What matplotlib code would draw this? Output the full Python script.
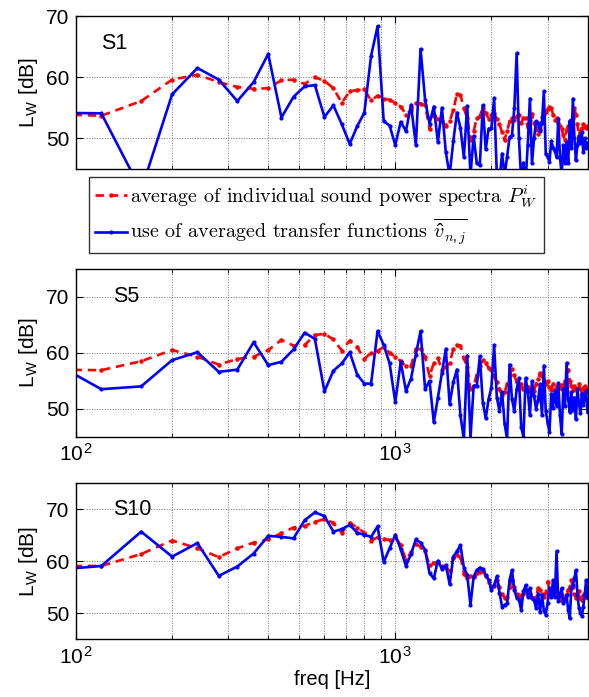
import matplotlib
matplotlib.use('Agg')
import math
import matplotlib.pyplot as plt
from matplotlib.ticker import FixedLocator, NullFormatter, FuncFormatter
from matplotlib.lines import Line2D

plt.rcParams['font.family'] = ['Liberation Sans', 'DejaVu Sans']
plt.rcParams['mathtext.fontset'] = 'custom'
plt.rcParams['mathtext.rm'] = 'Liberation Sans'
plt.rcParams['mathtext.it'] = 'cmmi10'
plt.rcParams['mathtext.bf'] = 'Liberation Sans:bold'

# frequency grid (40 Hz steps)
freq = [80, 120, 160, 200, 240, 280, 320, 360, 400, 440,
        480, 520, 560, 600, 640, 680, 720, 760, 800, 840,
        880, 920, 960, 1000, 1040, 1080, 1120, 1160, 1200, 1240,
        1280, 1320, 1360, 1400, 1440, 1480, 1520, 1560, 1600, 1640,
        1680, 1720, 1760, 1800, 1840, 1880, 1920, 1960, 2000, 2040,
        2080, 2120, 2160, 2200, 2240, 2280, 2320, 2360, 2400, 2440,
        2480, 2520, 2560, 2600, 2640, 2680, 2720, 2760, 2800, 2840,
        2880, 2920, 2960, 3000, 3040, 3080, 3120, 3160, 3200, 3240,
        3280, 3320, 3360, 3400, 3440, 3480, 3520, 3560, 3600, 3640,
        3680, 3720, 3760, 3800, 3840, 3880, 3920, 3960, 4000]

# S1
s1_avg = [54.0, 53.7, 56.1, 59.6, 60.4, 59.2, 58.4, 58.1, 58.2, 59.5,
          59.6, 58.9, 60.0, 59.4, 58.2, 55.8, 57.7, 57.9, 58.0, 56.2,
          57.0, 56.5, 56.3, 55.8, 55.2, 53.9, 54.6, 55.8, 55.7, 55.4,
          51.6, 53.9, 53.2, 52.8, 52.1, 52.8, 54.6, 57.3, 57.1, 54.9,
          53.3, 49.8, 51.2, 53.3, 53.6, 55.0, 54.1, 53.2, 53.9, 54.1,
          53.2, 52.3, 51.0, 49.8, 51.2, 52.8, 53.3, 53.0, 53.6, 53.9,
          52.5, 53.3, 53.3, 51.9, 53.0, 54.0, 52.5, 51.7, 50.8, 51.5,
          53.5, 54.0, 54.3, 54.8, 55.2, 55.0, 53.9, 53.0, 53.3, 52.5,
          52.0, 51.5, 50.5, 49.8, 51.4, 52.0, 52.3, 53.0, 53.3, 54.9,
          53.9, 52.3, 50.4, 51.0, 51.7, 52.3, 52.0, 51.7, 52.0]
s1_tf = [54.2, 54.1, 41.5, 57.2, 61.5, 59.6, 56.1, 59.2, 63.8, 53.4,
         56.8, 58.5, 58.7, 53.5, 55.4, 52.3, 49.1, 52.0, 54.2, 63.5,
         68.3, 52.8, 52.1, 48.9, 52.7, 51.2, 55.5, 48.9, 64.6, 56.3,
         52.4, 55.2, 49.4, 55.0, 47.7, 44.0, 49.6, 54.2, 51.7, 46.9,
         55.3, 44.0, 50.4, 45.9, 45.6, 55.4, 48.2, 51.6, 51.7, 56.6,
         44.0, 43.0, 47.5, 44.0, 47.0, 50.2, 50.5, 55.0, 63.9, 50.0,
         43.0, 46.0, 43.0, 49.0, 56.5, 45.9, 50.0, 52.8, 52.5, 51.2,
         52.5, 57.7, 47.5, 47.0, 46.1, 49.6, 48.5, 48.0, 46.9, 53.1,
         47.0, 44.0, 48.9, 46.0, 49.4, 46.0, 52.9, 48.4, 56.5, 50.0,
         46.4, 49.0, 50.4, 49.2, 51.0, 47.8, 50.0, 48.5, 49.3]

# S5
s5_avg = [57.0, 56.9, 58.5, 60.5, 59.3, 57.9, 58.9, 59.3, 60.5, 62.3,
          61.3, 61.4, 63.2, 63.4, 62.4, 60.4, 62.2, 61.0, 58.9, 60.0,
          60.4, 61.0, 60.0, 59.3, 58.5, 57.6, 57.7, 60.7, 60.7, 59.3,
          55.8, 58.2, 59.0, 57.0, 57.5, 58.2, 60.6, 61.4, 61.3, 59.0,
          57.5, 53.5, 54.1, 56.1, 57.6, 58.8, 58.2, 57.3, 57.0, 55.8,
          54.7, 53.5, 52.4, 53.0, 54.4, 56.1, 57.1, 56.0, 54.7, 53.8,
          54.4, 53.5, 54.1, 53.9, 53.2, 52.6, 53.2, 54.4, 55.3, 56.4,
          55.8, 55.0, 54.4, 54.9, 53.9, 53.4, 54.4, 53.6, 54.0, 53.9,
          53.8, 54.3, 53.3, 54.9, 56.7, 57.0, 54.9, 54.0, 53.3, 54.0,
          53.3, 53.8, 54.5, 53.5, 53.0, 53.8, 54.0, 53.2, 53.5]
s5_tf = [59.1, 53.5, 54.0, 58.7, 60.1, 56.6, 57.0, 61.9, 57.8, 58.4,
         60.6, 63.6, 62.5, 53.1, 56.8, 58.1, 60.1, 56.1, 54.5, 54.5,
         63.9, 61.4, 58.1, 51.2, 58.4, 53.2, 55.4, 59.7, 63.9, 53.5,
         55.0, 47.6, 52.0, 56.4, 60.7, 50.8, 54.8, 57.0, 48.8, 44.5,
         59.5, 44.8, 54.1, 54.1, 59.4, 51.1, 48.3, 51.7, 53.8, 61.4,
         52.0, 49.6, 53.0, 47.3, 44.6, 57.9, 51.7, 49.6, 53.5, 55.5,
         46.7, 45.0, 55.5, 53.2, 48.8, 54.9, 52.3, 50.0, 51.5, 54.4,
         48.8, 57.7, 49.6, 47.5, 45.8, 52.6, 50.2, 53.2, 50.5, 54.6,
         48.8, 45.5, 53.5, 50.5, 58.2, 51.7, 49.4, 53.0, 49.8, 52.0,
         48.1, 53.6, 51.0, 49.2, 52.7, 50.6, 51.8, 53.2, 49.4]

# S10
s10_avg = [59.1, 59.1, 61.4, 64.0, 62.5, 60.8, 62.5, 63.6, 64.2, 65.4,
           66.5, 66.8, 67.6, 68.1, 67.4, 65.5, 67.4, 66.5, 65.5, 64.0,
           64.6, 64.3, 64.1, 64.7, 63.1, 60.3, 61.7, 63.3, 62.8, 61.9,
           59.3, 59.7, 59.9, 59.1, 58.8, 58.2, 60.6, 61.2, 60.9, 57.6,
           56.7, 57.1, 56.9, 57.7, 58.0, 58.2, 57.1, 56.1, 55.1, 55.3,
           56.4, 55.0, 53.8, 52.9, 53.2, 55.1, 56.4, 55.0, 53.8, 53.5,
           53.2, 53.8, 54.2, 54.5, 53.8, 53.0, 52.9, 53.2, 54.8, 54.5,
           53.8, 53.2, 54.0, 56.1, 54.5, 53.8, 53.5, 55.0, 53.8, 53.2,
           52.6, 53.5, 52.6, 53.0, 53.8, 54.5, 55.0, 56.4, 55.0, 53.8,
           53.0, 53.5, 54.2, 53.0, 52.5, 53.5, 54.0, 53.2, 53.5]
s10_tf = [58.2, 59.1, 65.7, 60.9, 63.5, 57.2, 59.0, 61.5, 64.9, 64.7,
          64.4, 67.9, 69.4, 68.7, 65.7, 66.2, 67.0, 65.5, 65.1, 64.7,
          66.7, 59.9, 62.5, 65.1, 62.3, 59.1, 61.4, 64.2, 63.6, 62.2,
          57.7, 56.7, 60.1, 58.5, 59.3, 55.6, 60.9, 61.9, 63.1, 58.8,
          57.4, 51.6, 57.1, 58.3, 58.8, 58.5, 57.4, 56.4, 54.5, 55.4,
          57.1, 54.0, 51.3, 51.6, 51.9, 56.4, 58.3, 54.5, 53.0, 52.6,
          50.6, 54.2, 55.4, 53.2, 54.8, 53.0, 52.6, 51.0, 53.8, 50.3,
          53.5, 50.6, 49.7, 52.0, 54.8, 53.2, 56.4, 53.2, 61.9, 52.3,
          53.5, 54.8, 51.9, 52.5, 53.5, 50.6, 49.0, 54.8, 55.5, 56.7,
          58.3, 53.8, 51.0, 50.0, 49.5, 51.3, 53.5, 56.4, 53.0]

panels = [
    ('S1', s1_avg, s1_tf, (45, 70), (120, 65.5)),
    ('S5', s5_avg, s5_tf, (45, 75), (131, 70)),
    ('S10', s10_avg, s10_tf, (45, 75), (131, 70)),
]

W, H = 589, 697
fig = plt.figure(figsize=(W / 100, H / 100), dpi=100)

# axes boxes in pixels: (top, bottom)
boxes = [(16, 169), (269, 436.7), (483.3, 639.3)]
left_px, right_px = 76, 587.5

minor_x = [200, 300, 400, 500, 600, 700, 800, 900, 2000, 3000, 4000]
FS = 15

for i, (name, avg, tf, ylim, txt) in enumerate(panels):
    top, bot = boxes[i]
    ax = fig.add_axes([left_px / W, 1 - bot / H,
                       (right_px - left_px) / W, (bot - top) / H])
    ax.plot(freq, avg, color='red', ls='--', dashes=(3.2, 2.2), lw=1.9,
            marker='.', ms=4.5)
    ax.plot(freq, tf, color='blue', ls='-', lw=1.9, marker='.', ms=4)
    ax.set_xscale('log')
    ax.set_xlim(100, 4000)
    ax.set_ylim(*ylim)
    ax.set_yticks([50, 60, 70])
    ax.xaxis.set_major_locator(FixedLocator([100, 1000]))
    ax.xaxis.set_minor_locator(FixedLocator(minor_x))
    ax.xaxis.set_minor_formatter(NullFormatter())
    ax.xaxis.set_major_formatter(FuncFormatter(
        lambda v, p: r'$10^{%d}$' % round(math.log10(v))))
    ax.grid(True, which='both', axis='x', ls=':', lw=0.7, color='0.45')
    ax.grid(True, which='major', axis='y', ls=':', lw=0.7, color='0.45')
    ax.tick_params(which='both', direction='in', top=True, right=True,
                   labelsize=FS, pad=5)
    ax.tick_params(which='major', length=5)
    ax.tick_params(which='minor', length=3)
    for s in ax.spines.values():
        s.set_linewidth(1.0)
    ax.set_ylabel(r'L$_\mathrm{W}$ [dB]', fontsize=FS, labelpad=4)
    ax.text(txt[0], txt[1], name, fontsize=FS + 0.5, va='center', ha='left')
    if i == 0:
        ax.tick_params(labelbottom=False)
    if i == 2:
        ax.set_xlabel('freq [Hz]', fontsize=14.5, labelpad=1)

handles = [Line2D([], [], color='red', ls='--', dashes=(3.2, 2.2), lw=1.9,
                  marker='.', ms=4.5),
           Line2D([], [], color='blue', ls='-', lw=1.9, marker='.', ms=4)]
labels = [r'average of individual sound power spectra $P_W^i$',
          r'use of averaged transfer functions $\overline{\hat{v}_{n,j}}$']
leg = fig.legend(handles, labels, loc='upper left',
                 bbox_to_anchor=(89 / W, 1 - 177 / H),
                 prop={'family': 'cmr10', 'size': 14.5},
                 numpoints=1, handlelength=1.6, handletextpad=0.15,
                 borderpad=0.3, labelspacing=0.35, borderaxespad=0,
                 frameon=True, fancybox=False)
leg.get_frame().set_edgecolor('black')
leg.get_frame().set_linewidth(1.0)

fig.savefig('out.png', dpi=100)
